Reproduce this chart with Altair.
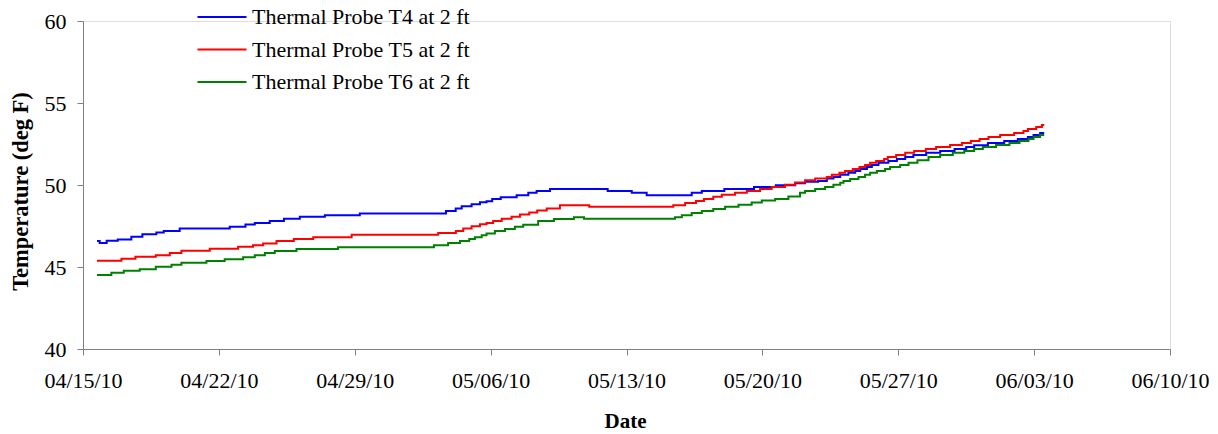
import altair as alt
import pandas as pd

# Series names
series_names = ["Thermal Probe T4 at 2 ft", "Thermal Probe T5 at 2 ft", "Thermal Probe T6 at 2 ft"]
series_colors = ["#0000FF", "#FF0000", "#008000"]

# Days since 2010-04-15 00:00 and temperatures (deg F)
t4_days = [0.72, 0.86, 1.22, 1.79, 2.49, 3.06, 3.78, 4.16, 4.98, 7.56, 8.37, 8.85, 9.62, 10.35, 11.17,
           12.46, 14.26, 18.70, 19.20, 19.51, 20.02, 20.45, 20.79, 21.08, 21.52, 22.34, 22.94, 23.37, 24.06, 27.03,
           28.27, 29.04, 31.36, 31.88, 33.04, 34.57, 35.69, 36.69, 37.20, 37.87, 38.32, 38.66, 39.01, 39.43, 39.78,
           40.04, 40.39, 40.64, 40.98, 41.49, 41.93, 42.36, 42.78, 43.44, 44.16, 44.90, 45.50, 45.91, 46.62, 47.46,
           48.16, 48.68, 48.97, 49.31, 49.52]
t4_temp = [46.58, 46.47, 46.60, 46.68, 46.84, 46.99, 47.11, 47.20, 47.35, 47.45, 47.59, 47.69, 47.81, 47.94, 48.06,
           48.16, 48.26, 48.42, 48.57, 48.71, 48.83, 48.95, 49.01, 49.14, 49.26, 49.38, 49.52, 49.64, 49.76, 49.64,
           49.52, 49.38, 49.52, 49.64, 49.76, 49.88, 49.99, 50.11, 50.20, 50.25, 50.40, 50.49, 50.62, 50.74, 50.86,
           50.98, 51.10, 51.22, 51.35, 51.47, 51.59, 51.71, 51.83, 51.96, 52.08, 52.20, 52.32, 52.42, 52.56, 52.69,
           52.81, 52.93, 53.05, 53.17, 53.17]

t5_days = [0.72, 1.98, 2.70, 3.75, 4.47, 5.07, 6.53, 7.99, 8.76, 9.28, 9.97, 10.86, 11.86, 13.84, 18.30,
           19.21, 19.59, 20.02, 20.45, 20.79, 21.13, 21.57, 22.08, 22.51, 22.99, 23.40, 23.89, 24.57, 26.08, 30.41,
           31.02, 31.58, 31.99, 32.47, 32.91, 33.59, 34.20, 34.88, 35.48, 36.17, 36.69, 37.20, 37.72, 38.32, 38.58,
           38.97, 39.26, 39.66, 40.00, 40.29, 40.55, 40.86, 41.27, 41.46, 41.89, 42.36, 42.82, 43.42, 43.95, 44.67,
           45.28, 45.74, 46.19, 46.65, 47.25, 47.97, 48.45, 48.68, 49.11, 49.40, 49.52]
t5_temp = [45.38, 45.50, 45.62, 45.72, 45.86, 45.99, 46.11, 46.23, 46.33, 46.44, 46.58, 46.70, 46.82, 46.96, 47.08,
           47.20, 47.35, 47.49, 47.61, 47.69, 47.81, 47.94, 48.06, 48.20, 48.33, 48.45, 48.57, 48.77, 48.67, 48.77,
           48.91, 49.03, 49.15, 49.28, 49.40, 49.52, 49.64, 49.76, 49.88, 50.01, 50.15, 50.29, 50.40, 50.49, 50.62,
           50.74, 50.86, 50.98, 51.10, 51.22, 51.35, 51.47, 51.59, 51.71, 51.83, 51.96, 52.08, 52.20, 52.32, 52.44,
           52.56, 52.69, 52.81, 52.93, 53.05, 53.17, 53.29, 53.42, 53.54, 53.66, 53.66]

t6_days = [0.72, 1.46, 2.10, 2.92, 3.75, 4.56, 5.07, 6.36, 7.30, 8.25, 8.85, 9.37, 9.88, 11.00, 13.14,
           18.08, 18.81, 19.42, 19.90, 20.19, 20.54, 20.79, 21.22, 21.74, 22.25, 22.68, 23.45, 24.26, 25.29, 25.81,
           30.50, 30.85, 31.36, 31.88, 32.47, 33.08, 33.77, 34.45, 34.97, 35.66, 36.34, 36.94, 37.20, 37.72, 38.23,
           38.66, 39.01, 39.18, 39.52, 39.95, 40.29, 40.55, 40.90, 41.32, 41.58, 42.10, 42.53, 42.99, 43.56, 44.16,
           44.81, 45.40, 45.91, 46.36, 47.04, 47.73, 48.25, 48.71, 48.97, 49.31, 49.52]
t6_temp = [44.51, 44.65, 44.77, 44.87, 45.01, 45.13, 45.26, 45.36, 45.48, 45.60, 45.72, 45.85, 45.97, 46.09, 46.21,
           46.33, 46.46, 46.58, 46.70, 46.82, 46.94, 47.05, 47.19, 47.31, 47.45, 47.57, 47.80, 47.92, 48.04, 47.94,
           48.04, 48.16, 48.30, 48.42, 48.54, 48.67, 48.79, 48.93, 49.06, 49.15, 49.30, 49.52, 49.64, 49.76, 49.88,
           50.01, 50.13, 50.25, 50.37, 50.49, 50.62, 50.74, 50.86, 50.98, 51.10, 51.22, 51.35, 51.51, 51.71, 51.83,
           51.96, 52.08, 52.20, 52.32, 52.44, 52.56, 52.69, 52.81, 52.93, 53.05, 53.05]

# Axis tick values
y_ticks = [40, 45, 50, 55, 60]
x_tick_dates = [(2010, 4, 15), (2010, 4, 22), (2010, 4, 29), (2010, 5, 6), (2010, 5, 13),
                (2010, 5, 20), (2010, 5, 27), (2010, 6, 3), (2010, 6, 10)]

base = pd.Timestamp("2010-04-15 00:00:00")
frames = []
for name, days, temps in zip(series_names, [t4_days, t5_days, t6_days], [t4_temp, t5_temp, t6_temp]):
    ts = base + pd.to_timedelta(days, unit="D")
    frames.append(pd.DataFrame({
        "Date": ts.strftime("%Y-%m-%dT%H:%M:%S"),
        "Temp": temps,
        "Series": name,
    }))
df = pd.concat(frames, ignore_index=True)

FONT = "Liberation Serif"
AXIS_GRAY = "#808080"

x_vals = [alt.DateTime(year=y, month=m, date=d) for (y, m, d) in x_tick_dates]

chart = alt.Chart(df).mark_line(interpolate="step-after", strokeWidth=2).encode(
    x=alt.X("Date:T",
            scale=alt.Scale(domain=[x_vals[0], x_vals[-1]], nice=False),
            axis=alt.Axis(values=x_vals, format="%m/%d/%y", grid=False,
                          tickSize=6, labelPadding=15, labelFlush=False, labelOverlap=False,
                          domainColor=AXIS_GRAY, tickColor=AXIS_GRAY,
                          labelFont=FONT, labelFontSize=22, labelColor="black",
                          title="Date", titleFont=FONT, titleFontSize=21, titleFontWeight="bold",
                          titleColor="black", titleY=78, titleX=542, titleBaseline="alphabetic")),
    y=alt.Y("Temp:Q",
            scale=alt.Scale(domain=[40, 60], nice=False, zero=False),
            axis=alt.Axis(values=y_ticks, grid=False, tickSize=6, labelPadding=11, labelFlush=False,
                          domainColor=AXIS_GRAY, tickColor=AXIS_GRAY,
                          labelFont=FONT, labelFontSize=22, labelColor="black",
                          title="Temperature (deg F)", titleFont=FONT, titleFontSize=22.5,
                          titleFontWeight="bold", titleColor="black",
                          titleX=-56, titleY=170, titleBaseline="alphabetic")),
    color=alt.Color("Series:N",
                    scale=alt.Scale(domain=series_names, range=series_colors),
                    legend=alt.Legend(title=None, orient="none", legendX=128, legendY=-15,
                                      symbolType="M-5,0H5", symbolSize=96, symbolStrokeWidth=2,
                                      labelFont=FONT, labelFontSize=22, labelColor="black",
                                      labelOffset=19, rowPadding=10.5, padding=0, labelLimit=400)),
).properties(
    width=1087,
    height=328,
    autosize=alt.AutoSizeParams(type="none"),
    padding={"left": 83, "top": 21, "right": 48, "bottom": 85},
).configure_view(stroke=None).configure(background="white")

chart.save("out.html", embed_options={"renderer": "svg", "actions": False})
